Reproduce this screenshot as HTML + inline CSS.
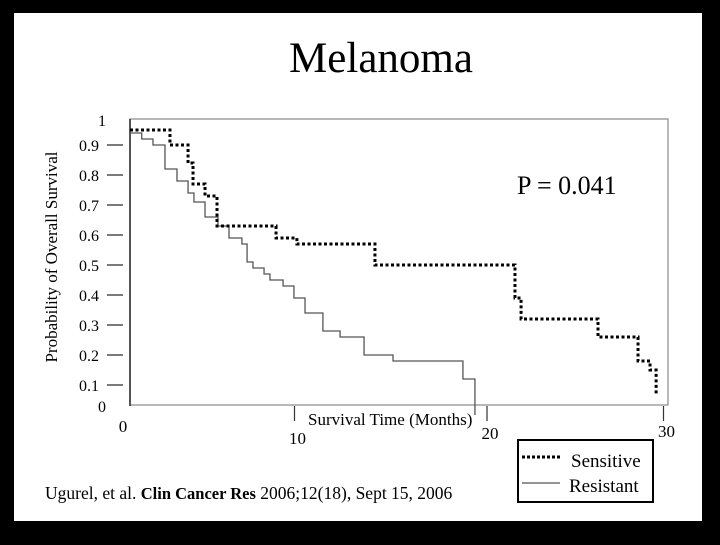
<!DOCTYPE html>
<html><head><meta charset="utf-8"><style>
html,body{margin:0;padding:0;background:#000;}
body{width:720px;height:540px;position:relative;overflow:hidden;font-family:"Liberation Serif",serif;}
</style></head><body>
<svg width="720" height="540" xmlns="http://www.w3.org/2000/svg">
<rect x="0" y="0" width="720" height="540" fill="#000"/>
<rect x="14" y="13" width="688" height="508" fill="#fff"/>
<text x="381" y="72" font-size="43" text-anchor="middle" font-family="Liberation Serif, serif">Melanoma</text>
<g id="chart"></g>
<text x="517" y="194" font-size="26" font-family="Liberation Serif, serif">P = 0.041</text>
<text transform="translate(57,257) rotate(-90)" font-size="17" text-anchor="middle" font-family="Liberation Serif, serif">Probability of Overall Survival</text>
<text x="308" y="425" font-size="17" font-family="Liberation Serif, serif">Survival Time (Months)</text>
<g>
<rect x="518" y="440" width="135" height="62" fill="#fff" stroke="#000" stroke-width="2"/>
<line x1="522" y1="457" x2="560" y2="457" stroke="#000" stroke-width="3" stroke-dasharray="3,2"/>
<text x="571" y="467" font-size="19" font-family="Liberation Serif, serif">Sensitive</text>
<line x1="522" y1="483" x2="560" y2="483" stroke="#555" stroke-width="1.3"/>
<text x="569" y="492" font-size="19" font-family="Liberation Serif, serif">Resistant</text>
</g>
<text x="45" y="499" font-size="17.5" font-family="Liberation Serif, serif">Ugurel, et al. <tspan font-weight="bold" font-size="16.5">Clin Cancer Res</tspan> 2006;12(18), Sept 15, 2006</text>
</svg>
<script>
const yTicks=[0,0.1,0.2,0.3,0.4,0.5,0.6,0.7,0.8,0.9,1];
const yTickLabels=["0","0.1","0.2","0.3","0.4","0.5","0.6","0.7","0.8","0.9","1"];
const xTicks=[0,10,20,30];
const xTickLabels=["0","10","20","30"];
const resistantTimes=[0,1.72,2.33,2.98,3.63,4.23,4.55,5.15,5.85,6.45,7.15,7.43,7.75,8.35,8.67,9.38,9.97,10.57,11.54,12.47,13.77,15.34,19.13,19.78];
const resistantSurv=[0.94,0.92,0.9,0.82,0.78,0.74,0.71,0.66,0.63,0.59,0.57,0.51,0.49,0.47,0.45,0.43,0.39,0.34,0.28,0.26,0.2,0.18,0.12,0.0];
const sensitiveTimes=[0,3.25,4.23,4.5,5.15,5.8,9.0,10.13,14.36,21.95,22.28,26.45,28.62,29.27,29.6];
const sensitiveSurv=[0.95,0.9,0.84,0.77,0.73,0.63,0.59,0.57,0.5,0.39,0.32,0.26,0.18,0.15,0.07];
const NS="http://www.w3.org/2000/svg";
function xs(t){return 110+18.45*t;}
function ys(v){return 415-300*v;}
const g=document.getElementById('chart');
function mk(tag,attrs){const e=document.createElementNS(NS,tag);for(const k in attrs)e.setAttribute(k,attrs[k]);g.appendChild(e);return e;}
const frame=mk('rect',{x:130,y:119,width:538,height:286,fill:'none',stroke:'#888','stroke-width':1.2});


const ax=mk('line',{x1:130,y1:119,x2:130,y2:406,stroke:'#555','stroke-width':2});


yTicks.forEach((v,i)=>{
  const y=ys(v);
  if(v>0&&v<1){const l=mk('line',{x1:107,y1:y,x2:123,y2:y,stroke:'#333','stroke-width':1.3});
  
  }
  const lx=(v===0||v===1)?106:99;
  const ly=v===0?412:(v===1?126:y+6);
  const t=mk('text',{x:lx,y:ly,'font-size':16,'text-anchor':'end','font-family':'Liberation Serif, serif'});
  t.textContent=yTickLabels[i];
  
  
});
xTicks.forEach((v,i)=>{
  const x=xs(v);
  const tx=v===20?x+8:x;
  if(v>0){const l=mk('line',{x1:tx,y1:406,x2:tx,y2:421,stroke:'#333','stroke-width':1.2});
  
  }
  const t=mk('text',{x:v===0?123:tx+3,y:v===0?432:(v===10?444:(v===20?439:437)),'font-size':17,'text-anchor':'middle','font-family':'Liberation Serif, serif'});
  t.textContent=xTickLabels[i];
  
  
});
function stepPath(ts,vs){
  let d='M'+Math.max(130,xs(ts[0]))+','+ys(vs[0]);
  for(let i=1;i<ts.length;i++){d+=' H'+xs(ts[i])+' V'+ys(vs[i]);}
  return d;
}
const r=mk('path',{d:stepPath(resistantTimes,resistantSurv),fill:'none',stroke:'#555','stroke-width':1.3});


const s=mk('path',{d:stepPath(sensitiveTimes,sensitiveSurv),fill:'none',stroke:'#000','stroke-width':3,'stroke-dasharray':'3,2.5'});


</script>
</body></html>
